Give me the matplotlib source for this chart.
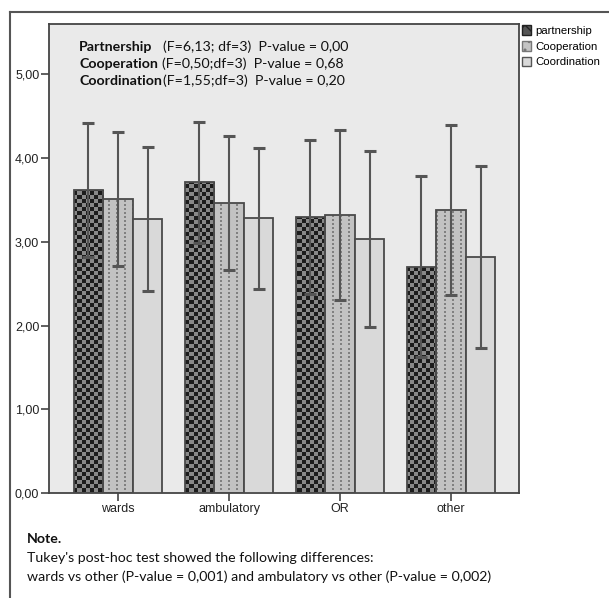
import matplotlib
matplotlib.use("Agg")
import matplotlib.pyplot as plt
import numpy as np
from matplotlib.lines import Line2D
from matplotlib.patches import Patch

# data (means and error bar half-lengths)
categories = ["wards", "ambulatory", "OR", "other"]
series = ["partnership", "Cooperation", "Coordination"]
partnership = [3.62, 3.71, 3.30, 2.70]
cooperation = [3.51, 3.46, 3.32, 3.38]
coordination = [3.27, 3.28, 3.03, 2.82]
sd_partnership = [0.80, 0.72, 0.92, 1.08]
sd_cooperation = [0.80, 0.80, 1.01, 1.01]
sd_coordination = [0.86, 0.84, 1.05, 1.09]
yticks = [0, 1, 2, 3, 4, 5]
ytick_labels = ["0,00", "1,00", "2,00", "3,00", "4,00", "5,00"]
stats_names = ["Partnership", "Cooperation", "Coordination"]
stats_rest = ["(F=6,13; df=3)  P-value = 0,00",
              "(F=0,50;df=3)  P-value = 0,68",
              "(F=1,55;df=3)  P-value = 0,20"]
stats_gap = [11, 4, 1.5]
note_lines = ["Tukey's post-hoc test showed the following differences:",
              "wards vs other (P-value = 0,001) and ambulatory vs other (P-value = 0,002)"]

W, H = 609, 598
fig = plt.figure(figsize=(W / 100, H / 100), dpi=100)
fig.patch.set_facecolor("white")

# axes box in pixels
L, R, T, B = 49, 519, 24, 493
ax = fig.add_axes([L / W, 1 - B / H, (R - L) / W, (B - T) / H])
ax.set_facecolor("#eaeaea")

xmin, xmax, ymax = -0.622, 3.613, 5.6
bw = 0.267
x = np.arange(len(categories))

# textures, one pixel per array cell
pw, ph = R - L, B - T
ii, jj = np.mgrid[0:ph, 0:pw]
checker = ((ii // 4 + jj // 4) % 2).astype(bool)
tex_check = np.zeros((ph, pw, 3))
tex_check[checker] = np.array([0x88, 0x88, 0x88]) / 255
tex_check[~checker] = np.array([0x1c, 0x1c, 0x1c]) / 255
tex_dot = np.ones((ph, pw, 3)) * 0xc2 / 255
dots = ((jj % 8 == 3) | (jj % 8 == 4)) & (ii % 4 < 2)
tex_dot[dots] = 0x80 / 255

vals = [partnership, cooperation, coordination]
sds = [sd_partnership, sd_cooperation, sd_coordination]
faces = ["none", "none", "#d9d9d9"]
textures = [tex_check, tex_dot, None]

for k in range(3):
    bars = ax.bar(x + (k - 1) * bw, vals[k], bw, facecolor=faces[k],
                  edgecolor="#4a4a4a", linewidth=1.3, zorder=3)
    if textures[k] is not None:
        for b in bars:
            im = ax.imshow(textures[k], extent=(xmin, xmax, 0, ymax),
                           aspect="auto", interpolation="nearest", zorder=2)
            im.set_clip_path(b)
    ax.errorbar(x + (k - 1) * bw, vals[k], yerr=sds[k], fmt="none",
                ecolor="#555555", elinewidth=1.5, capsize=4, capthick=2.2,
                zorder=4)

ax.set_xlim(xmin, xmax)
ax.set_ylim(0, ymax)
ax.set_xticks(x)
ax.set_xticklabels(categories, fontsize=9, family="Liberation Sans", color="#222222")
ax.set_yticks(yticks)
ax.set_yticklabels(ytick_labels, fontsize=9, family="Liberation Sans", color="#222222")
ax.tick_params(axis="both", direction="out", length=6, width=1.2, color="#444444", pad=1)
for s in ax.spines.values():
    s.set_color("#444444")
    s.set_linewidth(1.3)

# ANOVA text in the plot
cond = ["Lato", "DejaVu Sans"]
for r in range(3):
    ypx = 47 + r * 17
    t = fig.text(79 / W, 1 - ypx / H, stats_names[r], fontsize=10.2, fontweight="bold",
                 family=cond, va="center", color="#111111")
    ax.annotate(stats_rest[r], xy=(1, 0.5), xycoords=t, xytext=(stats_gap[r], 0),
                textcoords="offset pixels", va="center", fontsize=10.2,
                family=cond, color="#111111")

# legend
handles = [Patch(facecolor="#555555", edgecolor="#222222", hatch="xx"),
           Patch(facecolor="#c4c4c4", edgecolor="#777777", hatch=".."),
           Patch(facecolor="#d9d9d9", edgecolor="#555555")]
fig.legend(handles, series, loc="upper left", bbox_to_anchor=(520 / W, 1 - 23 / H),
           frameon=False, prop={"family": "Liberation Sans", "size": 8.2},
           handlelength=0.75, handleheight=0.9, handletextpad=0.4,
           labelspacing=0.45, borderpad=0.2, borderaxespad=0)

# note
fig.text(27 / W, 1 - 539 / H, "Note.", fontsize=10.2, fontweight="bold", family=cond,
         va="center", color="#111111")
for r, line in enumerate(note_lines):
    fig.text(27 / W, 1 - (558 + r * 19) / H, line, fontsize=10.2, family=cond,
             va="center", color="#111111")

# outer frame (left and top only visible)
fig.add_artist(Line2D([10 / W, 10 / W], [0, 1 - 12 / H], color="#555555", lw=1.5))
fig.add_artist(Line2D([10 / W, 1], [1 - 12 / H, 1 - 12 / H], color="#555555", lw=1.5))

fig.savefig("out.png", dpi=100, facecolor="white")
